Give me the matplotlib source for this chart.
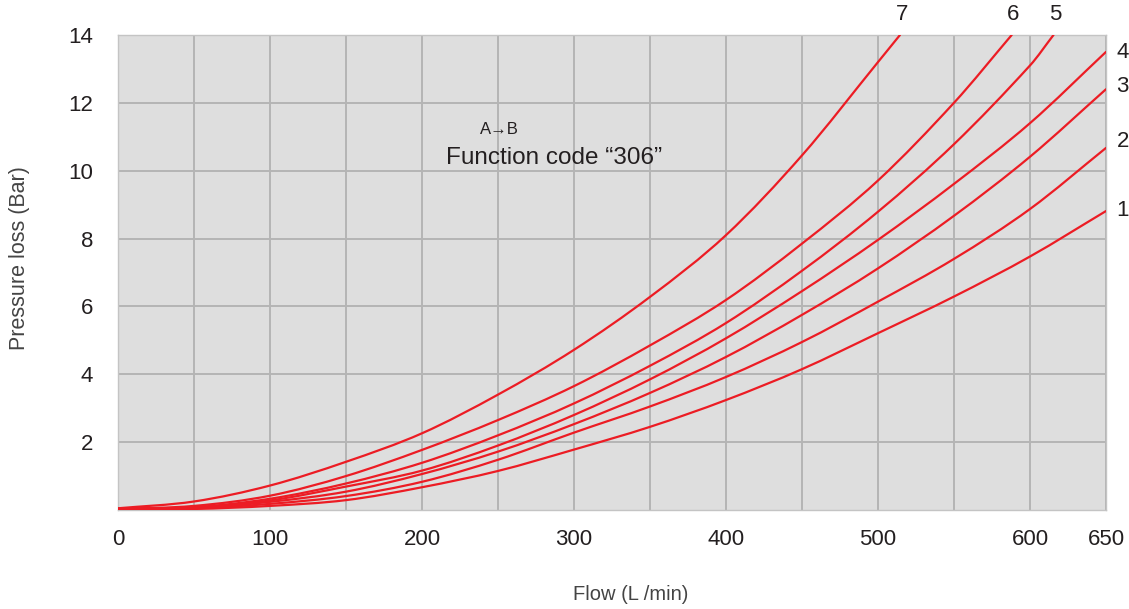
#!/usr/bin/env python3

import matplotlib
matplotlib.use('Agg')
import matplotlib.pyplot as plt
from matplotlib.ticker import MultipleLocator
from matplotlib.path import Path
from matplotlib.patches import PathPatch

plt.rcParams['font.family'] = ['Liberation Sans', 'DejaVu Sans']

# Flow (L/min) sample points
flow = [0, 50, 100, 150, 200, 250, 300, 350, 400, 450, 500, 550, 600, 650]

# pressure loss (bar) for each curve, read at the flow points above
curve_1 = [0.03, 0.03, 0.12, 0.29, 0.67, 1.15, 1.78, 2.45, 3.24, 4.15, 5.21, 6.29, 7.47, 8.81]
curve_2 = [0.03, 0.05, 0.18, 0.41, 0.83, 1.48, 2.28, 3.05, 3.92, 4.95, 6.14, 7.40, 8.87, 10.67]
curve_3 = [0.03, 0.06, 0.24, 0.54, 1.06, 1.72, 2.53, 3.45, 4.51, 5.75, 7.12, 8.67, 10.41, 12.4]
curve_4 = [0.03, 0.07, 0.28, 0.69, 1.16, 1.90, 2.80, 3.85, 5.06, 6.45, 7.96, 9.61, 11.40, 13.5]

# the steeper curves leave the top of the chart before 650
flow_5 = [0, 50, 100, 150, 200, 250, 300, 350, 400, 450, 500, 550, 600, 615.5]
curve_5 = [0.03, 0.08, 0.33, 0.78, 1.39, 2.20, 3.14, 4.25, 5.51, 7.05, 8.79, 10.78, 13.1, 14.0]
flow_6 = [0, 50, 100, 150, 200, 250, 300, 350, 400, 450, 500, 550, 588]
curve_6 = [0.03, 0.12, 0.42, 1.00, 1.77, 2.65, 3.65, 4.85, 6.19, 7.85, 9.71, 12.0, 14.0]
flow_7 = [0, 50, 100, 150, 200, 250, 300, 350, 400, 450, 500, 514.5]
curve_7 = [0.05, 0.25, 0.72, 1.42, 2.26, 3.40, 4.72, 6.28, 8.10, 10.45, 13.2, 14.0]

series = [
    ('1', flow, curve_1),
    ('2', flow, curve_2),
    ('3', flow, curve_3),
    ('4', flow, curve_4),
    ('5', flow_5, curve_5),
    ('6', flow_6, curve_6),
    ('7', flow_7, curve_7),
]

# where the curve numbers sit (just outside the plot area)
label_pos = {
    '1': (657, 8.84), '2': (657, 10.85), '3': (657, 12.47), '4': (657, 13.47),
    '5': (616.5, 14.6), '6': (589, 14.6), '7': (516, 14.6),
}

red = '#ec1c24'
text_col = '#231f20'


def smooth_path(xs, ys):
    # cubic hermite/bezier through the read points, tangents from neighbours
    n = len(xs)
    slopes = []
    for i in range(n):
        a, b = max(i - 1, 0), min(i + 1, n - 1)
        slopes.append((ys[b] - ys[a]) / (xs[b] - xs[a]))
    verts = [(xs[0], ys[0])]
    codes = [Path.MOVETO]
    for i in range(n - 1):
        h = xs[i + 1] - xs[i]
        c1 = (xs[i] + h / 3.0, ys[i] + slopes[i] * h / 3.0)
        c2 = (xs[i + 1] - h / 3.0, ys[i + 1] - slopes[i + 1] * h / 3.0)
        verts += [c1, c2, (xs[i + 1], ys[i + 1])]
        codes += [Path.CURVE4] * 3
    return Path(verts, codes)


fig = plt.figure(figsize=(11.29, 6.09), dpi=100)
ax = fig.add_axes([0.1045, 0.1626, 0.8751, 0.78])
ax.set_facecolor('#dedede')

for name, xs, ys in series:
    patch = PathPatch(smooth_path(xs, ys), facecolor='none', edgecolor=red,
                      linewidth=1.6, capstyle='round', zorder=3)
    ax.add_patch(patch)
    lx, ly = label_pos[name]
    ax.text(lx, ly, name, fontsize=16, color=text_col, ha='left' if lx > 650 else 'center',
            va='center', clip_on=False)

ax.set_xlim(0, 650)
ax.set_ylim(0, 14)
ax.set_xticks([0, 100, 200, 300, 400, 500, 600, 650])
ax.xaxis.set_minor_locator(MultipleLocator(50))
ax.set_yticks([2, 4, 6, 8, 10, 12, 14])
ax.grid(True, which='both', color='#b4b4b4', linewidth=1.4, zorder=0)
ax.set_axisbelow(True)
ax.tick_params(which='both', length=0)
ax.tick_params(axis='x', pad=14, labelsize=16, labelcolor=text_col)
ax.tick_params(axis='y', pad=18, labelsize=16, labelcolor=text_col)
for sp in ax.spines.values():
    sp.set_color('#c4c4c4')
    sp.set_linewidth(1.0)

fig.text(631 / 1129, 1 - 595 / 609, 'Flow (L /min)', fontsize=14.5, color='#444444',
         ha='center', va='center')
fig.text(20 / 1129, 1 - 258 / 609, 'Pressure loss (Bar)', fontsize=15.5, color='#444444',
         ha='center', va='center', rotation=90)

ax.text(251, 11.2, 'A\u2192B', fontsize=12, color=text_col, ha='center', va='center')
ax.text(287, 10.37, 'Function code \u201c306\u201d', fontsize=17.5, color=text_col,
        ha='center', va='center')

plt.savefig('out.png', dpi=100)
print("saved out.png")
